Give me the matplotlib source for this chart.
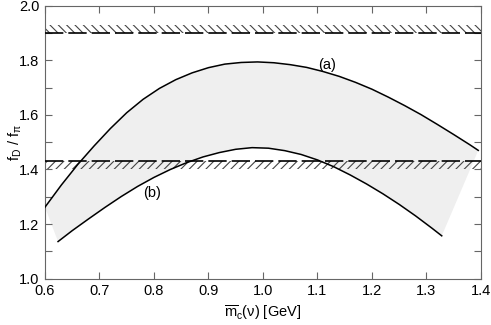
import numpy as np
import matplotlib
matplotlib.use("Agg")
import matplotlib.pyplot as plt
from matplotlib.ticker import MultipleLocator

plt.rcParams['font.family'] = ['Liberation Sans', 'DejaVu Sans']
plt.rcParams['mathtext.fontset'] = 'custom'
plt.rcParams['mathtext.rm'] = 'Liberation Sans'
plt.rcParams['mathtext.it'] = 'Liberation Sans'
plt.rcParams['hatch.linewidth'] = 0.8

# Curve (a): upper boundary of the band
curve_a_x = [0.600, 0.630, 0.660, 0.690, 0.720, 0.750, 0.780, 0.810, 0.840, 0.870,
             0.900, 0.930, 0.960, 0.990, 1.020, 1.050, 1.080, 1.110, 1.140, 1.170,
             1.200, 1.230, 1.260, 1.290, 1.320, 1.350, 1.380, 1.395]
curve_a_y = [1.262, 1.343, 1.418, 1.486, 1.550, 1.608, 1.657, 1.697, 1.729, 1.754,
             1.773, 1.786, 1.792, 1.794, 1.791, 1.784, 1.774, 1.759, 1.741, 1.719,
             1.694, 1.665, 1.634, 1.601, 1.565, 1.528, 1.490, 1.470]

# Curve (b): lower boundary
curve_b_x = [0.624, 0.650, 0.680, 0.710, 0.740, 0.770, 0.800, 0.830, 0.860, 0.890,
             0.920, 0.950, 0.980, 1.010, 1.040, 1.070, 1.100, 1.130, 1.160, 1.190,
             1.220, 1.250, 1.280, 1.310, 1.328]
curve_b_y = [1.136, 1.176, 1.219, 1.261, 1.301, 1.338, 1.371, 1.400, 1.425, 1.446,
             1.462, 1.474, 1.480, 1.478, 1.469, 1.455, 1.435, 1.410, 1.380, 1.347,
             1.311, 1.272, 1.230, 1.185, 1.157]

# horizontal bounds (dashed lines with hatching)
upper_bound = 1.90
upper_hatch_top = 1.93
lower_bound = 1.43
lower_hatch_bottom = 1.40

fig = plt.figure(figsize=(4.91, 3.25), dpi=100)
ax = fig.add_axes([0.0916, 0.1425, 0.888, 0.84])

# shaded band between the curves
poly_x = curve_a_x + curve_b_x[::-1]
poly_y = curve_a_y + curve_b_y[::-1]
ax.fill(poly_x, poly_y, color='#efefef', lw=0, zorder=1)

# hatched bands
ax.fill_between([0.6, 1.4], upper_bound, upper_hatch_top, facecolor='none',
                edgecolor='#444444', hatch='\\\\\\\\', lw=0, zorder=2)
ax.fill_between([0.6, 1.4], lower_hatch_bottom, lower_bound, facecolor='none',
                edgecolor='#444444', hatch='////', lw=0, zorder=2)
ax.axhline(upper_bound, color='black', lw=1.2, dashes=(11, 3), zorder=3)
ax.axhline(lower_bound, color='black', lw=1.2, dashes=(11, 3), zorder=3)

ax.plot(curve_a_x, curve_a_y, color='black', lw=1.1, zorder=4)
ax.plot(curve_b_x, curve_b_y, color='black', lw=1.1, zorder=4)

ax.text(1.118, 1.783, '(a)', fontsize=10.5, ha='center', va='center')
ax.text(0.796, 1.313, '(b)', fontsize=10.5, ha='center', va='center')

ax.set_xlim(0.6, 1.4)
ax.set_ylim(1.0, 2.0)
ax.xaxis.set_major_locator(MultipleLocator(0.1))
ax.yaxis.set_major_locator(MultipleLocator(0.2))
ax.yaxis.set_minor_locator(MultipleLocator(0.1))
ax.xaxis.set_major_formatter(plt.FormatStrFormatter('%.1f'))
ax.yaxis.set_major_formatter(plt.FormatStrFormatter('%.1f'))
ax.tick_params(which='both', direction='in', top=True, right=True, length=5,
               width=0.8, color='#666666', labelsize=10.5, pad=4)

for s in ax.spines.values():
    s.set_color('#666666')
    s.set_linewidth(0.8)

ax.set_xlabel(r'$\overline{\mathrm{m}}_\mathrm{c}(\nu)$ [GeV]', fontsize=10.5, labelpad=4)
ax.set_ylabel(r'$\mathrm{f}_\mathrm{D}$ / $\mathrm{f}_\pi$', fontsize=10.5)
ax.yaxis.set_label_coords(-0.048, 0.5)

fig.savefig('out.png', dpi=100)
